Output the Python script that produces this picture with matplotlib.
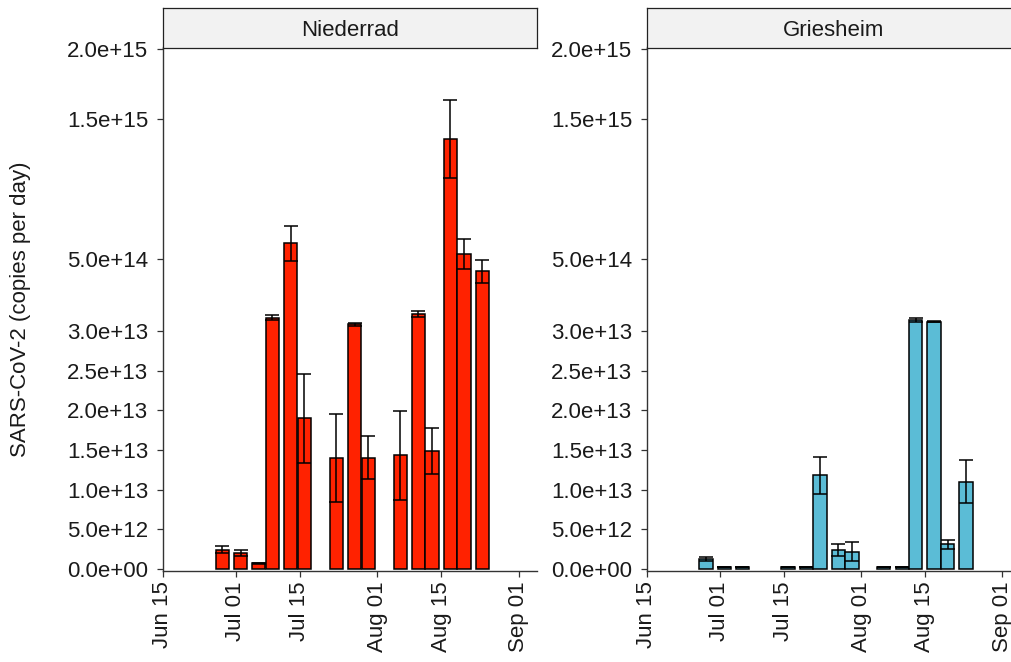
import numpy as np
import matplotlib
matplotlib.use('Agg')
import matplotlib.pyplot as plt
import matplotlib.dates as mdates
from matplotlib.ticker import FixedLocator, FuncFormatter

plt.rcParams['font.family'] = ['Liberation Sans', 'DejaVu Sans']

# data (copies per day, mean and sd)
sites = ['Niederrad', 'Griesheim']
site_colors = ['#FF2200', '#5BBCD6']

niederrad_dates = ['2020-06-28', '2020-07-02', '2020-07-06', '2020-07-09', '2020-07-13',
                   '2020-07-16', '2020-07-23', '2020-07-27', '2020-07-30', '2020-08-06',
                   '2020-08-10', '2020-08-13', '2020-08-17', '2020-08-20', '2020-08-24']
niederrad_values = [2.45e12, 2.0e12, 0.7e12, 8.4e13, 6.14e14,
                    1.9e13, 1.4e13, 3.08e13, 1.4e13, 1.43e13,
                    1.12e14, 1.49e13, 1.358e15, 5.38e14, 4.14e14]
niederrad_sd = [0.45e12, 0.4e12, 0.1e12, 1.7e13, 1.26e14,
                0.56e13, 0.55e13, 1.5e11, 0.27e13, 0.565e13,
                2.15e13, 0.29e13, 2.77e14, 1.05e14, 0.82e14]

griesheim_dates = ['2020-06-28', '2020-07-02', '2020-07-06', '2020-07-16', '2020-07-20',
                   '2020-07-23', '2020-07-27', '2020-07-30', '2020-08-06', '2020-08-10',
                   '2020-08-13', '2020-08-17', '2020-08-20', '2020-08-24']
griesheim_values = [1.3e12, 3e11, 3e11, 3e11, 3e11,
                    1.18e13, 2.4e12, 2.2e12, 3e11, 3e11,
                    6.8e13, 5.5e13, 3.1e12, 1.1e13]
griesheim_sd = [0.25e12, 0, 0, 0, 0,
                0.23e13, 0.8e12, 1.2e12, 0, 0,
                1.2e13, 0.4e13, 0.6e12, 0.27e13]

ytick_values = [0, 5e12, 1e13, 1.5e13, 2e13, 2.5e13, 3e13, 5e14, 1.5e15, 2e15]
xtick_dates = ['2020-06-15', '2020-07-01', '2020-07-15', '2020-08-01', '2020-08-15', '2020-09-01']

# broken y axis: linear up to 3.1e13, then squeezed from 4.7e13 on
B_LOW = 3.1e13
B_HIGH = 4.7e13
SQUISH = 56.6


def fwd(v):
    v = np.asarray(v, dtype=float)
    return np.where(v <= B_LOW, v,
                    np.where(v >= B_HIGH, B_LOW + (v - B_HIGH) / SQUISH, B_LOW))


def inv(f):
    f = np.asarray(f, dtype=float)
    return np.where(f <= B_LOW, f, B_HIGH + (f - B_LOW) * SQUISH)


def to_num(dates):
    return mdates.date2num(np.array(dates, dtype='datetime64[D]'))


fig = plt.figure(figsize=(10.12, 6.62), dpi=100)

panel_left = [163 / 1012, 646.7 / 1012]
panel_w = 374 / 1012
panel_b = (662 - 571) / 662
panel_h = 524 / 662

series = [(niederrad_dates, niederrad_values, niederrad_sd),
          (griesheim_dates, griesheim_values, griesheim_sd)]

txt_col = '#1a1a1a'
for i, (dates, vals, sds) in enumerate(series):
    ax = fig.add_axes([panel_left[i], panel_b, panel_w, panel_h])
    ax.set_yscale('function', functions=(fwd, inv))
    x = to_num(dates)
    ax.bar(x, vals, width=2.9, color=site_colors[i], edgecolor='black',
           linewidth=1.1, zorder=2)
    ax.errorbar(x, vals, yerr=sds, fmt='none', ecolor='black', elinewidth=1.1,
                capsize=5, capthick=1.1, zorder=3)

    ax.set_xlim(to_num(['2020-06-15'])[0], to_num(['2020-09-05'])[0])
    ax.set_ylim(-2.5e11, 2.014e15)
    ax.xaxis.set_major_locator(FixedLocator(to_num(xtick_dates)))
    ax.xaxis.set_major_formatter(mdates.DateFormatter('%b %d'))
    ax.yaxis.set_major_locator(FixedLocator(ytick_values))
    ax.yaxis.set_major_formatter(FuncFormatter(lambda v, p: '%.1e' % v))
    ax.yaxis.set_minor_locator(FixedLocator([]))
    ax.tick_params(axis='both', labelsize=16, length=4.5, width=0.9,
                   color='#333333', labelcolor=txt_col)
    ax.tick_params(axis='y', pad=6)
    ax.tick_params(axis='x', pad=3, labelrotation=90)
    for s in ['top', 'right']:
        ax.spines[s].set_visible(False)
    for s in ['left', 'bottom']:
        ax.spines[s].set_color('#333333')
        ax.spines[s].set_linewidth(1.0)

    # facet strip
    sax = fig.add_axes([panel_left[i], (662 - 48) / 662, panel_w, 40 / 662])
    sax.set_facecolor('#F2F2F2')
    sax.set_xticks([])
    sax.set_yticks([])
    for s in sax.spines.values():
        s.set_color('#222222')
        s.set_linewidth(0.9)
    sax.text(0.5, 0.45, sites[i], ha='center', va='center', fontsize=16,
             color=txt_col, transform=sax.transAxes)

fig.text(0.02, panel_b + panel_h / 2, 'SARS-CoV-2 (copies per day)', rotation=90,
         ha='center', va='center', fontsize=16, color=txt_col)

fig.savefig('out.png', dpi=100)
